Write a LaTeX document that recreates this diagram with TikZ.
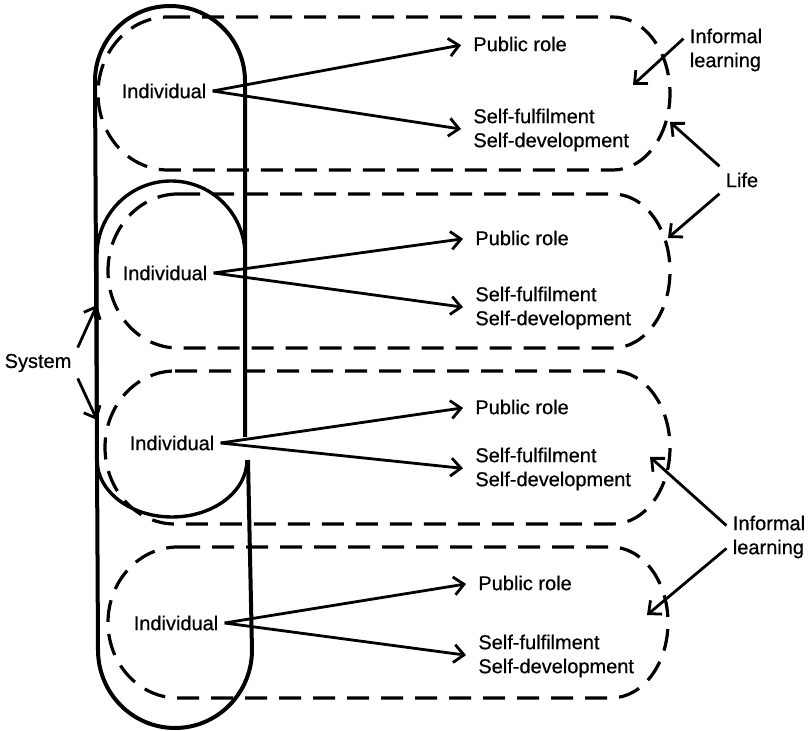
\documentclass[tikz,border=0pt]{standalone}
\usepackage{fontspec}
\setmainfont{Liberation Sans}[FakeBold=0.6]
\usetikzlibrary{arrows.meta}

\begin{document}
\begin{tikzpicture}[x=0.5pt,y=0.5pt,
    lbl/.style={inner sep=3pt,align=left,font=\fontsize{10}{12}\selectfont},
    arr/.style={line width=1.4pt,-{Straight Barb[length=5pt,width=9pt]}},
    sysline/.style={line width=1.7pt},
    lifeline/.style={line width=1.6pt,dash pattern=on 11pt off 6pt}]
    \useasboundingbox (0,0) rectangle (811,-731);
    % system
    \draw[sysline,line width=2pt] (245,-437) -- (245,-81) arc[start angle=0,end angle=180,radius=75]
      -- (98,-650) arc[start angle=180,end angle=360,x radius=77,y radius=78] -- (248,-460);
    \draw[sysline] (245,-437) -- (245,-255) arc[start angle=0,end angle=180,radius=74]
      -- (97,-460) arc[start angle=180,end angle=360,x radius=75,y radius=57];
    % life
    \foreach \t/\b/\l/\r in {17/170/98/613,194/348/108/613,371/524/105/613,547/698/108/611}
      \draw[lifeline] (\l+70,-\t) -- (\r,-\t) arc[start angle=90,end angle=-90,x radius=57,y radius={(\b-\t)/2}]
        -- (\l+70,-\b) arc[start angle=270,end angle=90,x radius=70,y radius={(\b-\t)/2}] -- cycle;
    % individuals
    \node[lbl] (ind1) at (164,-91) {Individual};
    \node[lbl,anchor=west] (pub1) at (467,-44) {Public role};
    \node[lbl,anchor=west] (self1) at (467,-130) {Self-fulfilment\\Self-development};
    \node[lbl] (ind2) at (165,-273) {Individual};
    \node[lbl,anchor=west] (pub2) at (469,-238) {Public role};
    \node[lbl,anchor=west] (self2) at (469,-308) {Self-fulfilment\\Self-development};
    \node[lbl] (ind3) at (172,-443) {Individual};
    \node[lbl,anchor=west] (pub3) at (469,-407) {Public role};
    \node[lbl,anchor=west] (self3) at (469,-469) {Self-fulfilment\\Self-development};
    \node[lbl] (ind4) at (176,-623) {Individual};
    \node[lbl,anchor=west] (pub4) at (472,-583) {Public role};
    \node[lbl,anchor=west] (self4) at (472,-656) {Self-fulfilment\\Self-development};
    \draw[arr,shorten >=3pt] (ind1.east) -- (pub1.west);
    \draw[arr,shorten >=3pt] (ind1.east) -- (self1.west);
    \draw[arr,shorten >=3pt] (ind2.east) -- (pub2.west);
    \draw[arr,shorten >=3pt] (ind2.east) -- (self2.west);
    \draw[arr,shorten >=3pt] (ind3.east) -- (pub3.west);
    \draw[arr,shorten >=3pt] (ind3.east) -- (self3.west);
    \draw[arr,shorten >=3pt] (ind4.east) -- (pub4.west);
    \draw[arr,shorten >=3pt] (ind4.east) -- (self4.west);
    % outside labels
    \node[lbl] (sys) at (38,-363) {System};
    \node[lbl] (inf1) at (726,-50) {Informal\\learning};
    \node[lbl] (life) at (742,-180) {Life};
    \node[lbl] (inf2) at (769,-537) {Informal\\learning};
    \coordinate (syA) at (97,-305);
    \coordinate (syB) at (97,-420);
    \coordinate (inA) at (633,-85);
    \coordinate (lfA) at (670,-122);
    \coordinate (lfB) at (668,-238);
    \coordinate (inB) at (650,-457);
    \coordinate (inC) at (647,-615);
    \draw[arr] (sys.north east) -- (syA);
    \draw[arr] (sys.south east) -- (syB);
    \draw[arr] (inf1.165) -- (inA);
    \draw[arr] (life.north west) -- (lfA);
    \draw[arr] (life.south west) -- (lfB);
    \draw[arr] (inf2.165) -- (inB);
    \draw[arr] (inf2.195) -- (inC);
\end{tikzpicture}
\end{document}
